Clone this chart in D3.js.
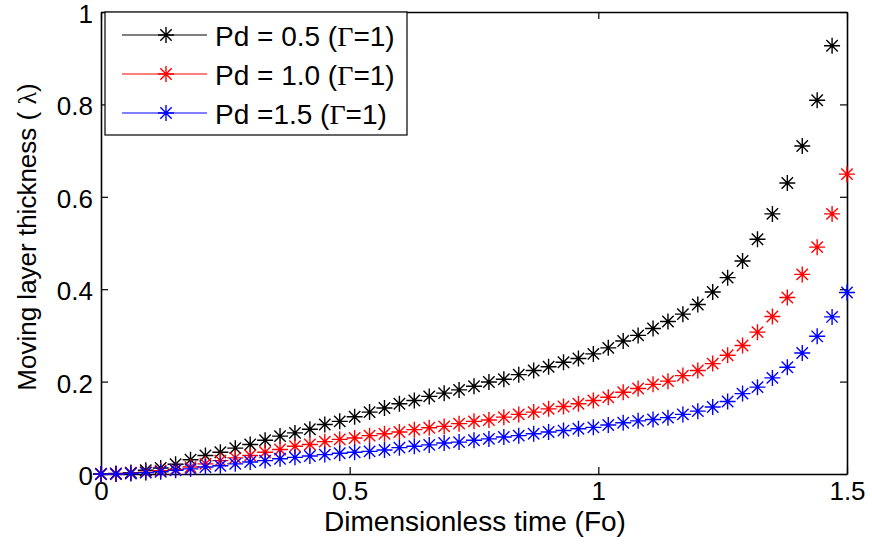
<!DOCTYPE html>
<html>
<head>
<meta charset="utf-8">
<script src="https://cdn.jsdelivr.net/npm/d3@7"></script>
<style>
  body { margin: 0; background: #fff; }
  text { font-family: "Liberation Sans", Arial, sans-serif; fill: #000; }
</style>
</head>
<body>
<div id="chart"></div>
<script>
// Dimensionless time (Fo)
const FO = [0, 0.03, 0.06, 0.09, 0.12, 0.15, 0.18, 0.21, 0.24, 0.27,
  0.30, 0.33, 0.36, 0.39, 0.42, 0.45, 0.48, 0.51, 0.54, 0.57,
  0.60, 0.63, 0.66, 0.69, 0.72, 0.75, 0.78, 0.81, 0.84, 0.87,
  0.90, 0.93, 0.96, 0.99, 1.02, 1.05, 1.08, 1.11, 1.14, 1.17,
  1.20, 1.23, 1.26, 1.29, 1.32, 1.35, 1.38, 1.41, 1.44, 1.47, 1.50];

// moving layer thickness, Pd = 0.5 (last point is off the top of the axes)
const PD05 = [0, 0.001, 0.003, 0.008, 0.013, 0.021, 0.031, 0.040, 0.047, 0.056,
  0.064, 0.073, 0.082, 0.089, 0.097, 0.107, 0.114, 0.124, 0.134, 0.143,
  0.152, 0.159, 0.168, 0.175, 0.182, 0.190, 0.199, 0.205, 0.215, 0.224,
  0.232, 0.242, 0.250, 0.260, 0.273, 0.288, 0.300, 0.315, 0.330, 0.346,
  0.367, 0.394, 0.425, 0.461, 0.508, 0.563, 0.630, 0.710, 0.809, 0.927];
const PD10 = [0, 0, 0.002, 0.004, 0.007, 0.010, 0.015, 0.022, 0.029, 0.035,
  0.040, 0.047, 0.053, 0.060, 0.064, 0.070, 0.075, 0.078, 0.083, 0.087,
  0.091, 0.096, 0.100, 0.103, 0.109, 0.114, 0.117, 0.123, 0.129, 0.134,
  0.141, 0.146, 0.152, 0.159, 0.166, 0.177, 0.185, 0.194, 0.201, 0.213,
  0.224, 0.239, 0.257, 0.278, 0.307, 0.341, 0.382, 0.432, 0.491, 0.563, 0.649];
const PD15 = [0, 0, 0.001, 0.003, 0.005, 0.008, 0.011, 0.015, 0.018, 0.022,
  0.026, 0.029, 0.033, 0.036, 0.039, 0.042, 0.045, 0.047, 0.049, 0.052,
  0.057, 0.060, 0.063, 0.067, 0.069, 0.073, 0.076, 0.080, 0.083, 0.087,
  0.091, 0.094, 0.098, 0.101, 0.106, 0.111, 0.115, 0.118, 0.122, 0.129,
  0.136, 0.145, 0.157, 0.174, 0.188, 0.208, 0.231, 0.262, 0.298, 0.340, 0.393];

const SERIES = [
  { pd: "0.5", label: "Pd = 0.5 (", color: "#000000", values: PD05 },
  { pd: "1.0", label: "Pd = 1.0 (", color: "#ff0000", values: PD10 },
  { pd: "1.5", label: "Pd =1.5 (", color: "#0000ff", values: PD15 }
];

const X_TICKS = [0, 0.5, 1, 1.5];
const Y_TICKS = [0, 0.2, 0.4, 0.6, 0.8, 1];

var margin = { top: 12, right: 25, bottom: 80, left: 101 },
  width = 872 - margin.left - margin.right,
  height = 554 - margin.top - margin.bottom;

var svg = d3.select("#chart")
  .append("svg")
  .attr("width", 872)
  .attr("height", 554);

var g = svg.append("g")
  .attr("transform", "translate(" + margin.left + "," + margin.top + ")");

var x = d3.scaleLinear().domain([0, 1.5]).range([0, width]);
var y = d3.scaleLinear().domain([0, 1]).range([height, 0]);

// axes with inward ticks, MATLAB style box
function styleAxis(sel) {
  sel.select(".domain").attr("stroke", "#000").attr("stroke-width", 1.6);
  sel.selectAll(".tick line").attr("stroke", "#000").attr("stroke-width", 1.2);
  sel.selectAll("text").style("font-size", "26px").style("font-family", "'Liberation Sans', Arial, sans-serif");
}

g.append("g")
  .attr("transform", "translate(0," + height + ")")
  .call(d3.axisBottom(x).tickValues(X_TICKS).tickSizeInner(-7).tickSizeOuter(0).tickPadding(8).tickFormat(d3.format("")))
  .call(styleAxis);

g.append("g")
  .call(d3.axisLeft(y).tickValues(Y_TICKS).tickSizeInner(-7).tickSizeOuter(0).tickPadding(8).tickFormat(d3.format("")))
  .call(styleAxis)
  .selectAll("text").attr("dy", "0.4em");

g.append("g")
  .call(d3.axisTop(x).tickValues(X_TICKS).tickSizeInner(-7).tickSizeOuter(0).tickFormat(""))
  .call(styleAxis);

g.append("g")
  .attr("transform", "translate(" + width + ",0)")
  .call(d3.axisRight(y).tickValues(Y_TICKS).tickSizeInner(-7).tickSizeOuter(0).tickFormat(""))
  .call(styleAxis);

// asterisk marker = plus + cross
var star = "M-8,0H8M0,-8V8M-5.7,-5.7L5.7,5.7M-5.7,5.7L5.7,-5.7";

SERIES.forEach(function (s) {
  var pts = s.values.map(function (v, i) { return { fo: FO[i], v: v }; });
  g.selectAll("path.m" + s.pd.replace(".", ""))
    .data(pts)
    .enter()
    .append("path")
    .attr("d", star)
    .attr("transform", function (d) { return "translate(" + x(d.fo) + "," + y(d.v) + ")"; })
    .attr("stroke", s.color)
    .attr("stroke-width", 1.4)
    .attr("fill", "none");
});

// axis titles
svg.append("text")
  .attr("x", margin.left + width / 2 + 1)
  .attr("y", 531)
  .style("text-anchor", "middle")
  .style("font-size", "28px")
  .text("Dimensionless time (Fo)");

var ylab = svg.append("text")
  .attr("transform", "translate(36,237) rotate(-90)")
  .style("text-anchor", "middle")
  .style("font-size", "26px");
ylab.append("tspan").text("Moving layer thickness ( ");
ylab.append("tspan").style("font-family", "'Liberation Serif', 'Times New Roman', serif").text("λ");
ylab.append("tspan").text(")");

// legend
var legend = svg.append("g").attr("transform", "translate(105,12)");
legend.append("rect")
  .attr("width", 302)
  .attr("height", 123)
  .attr("fill", "#fff")
  .attr("stroke", "#000")
  .attr("stroke-width", 1.2);

SERIES.forEach(function (s, i) {
  var row = legend.append("g").attr("transform", "translate(0," + (23 + i * 39) + ")");
  row.append("line")
    .attr("x1", 17).attr("x2", 102)
    .attr("stroke", s.color).attr("stroke-width", 1.2);
  row.append("path")
    .attr("d", star)
    .attr("transform", "translate(61,0)")
    .attr("stroke", s.color).attr("stroke-width", 1.4).attr("fill", "none");
  var t = row.append("text")
    .attr("x", 110)
    .attr("y", 11)
    .style("font-size", "28px");
  t.append("tspan").text(s.label);
  t.append("tspan").style("font-family", "'Liberation Serif', 'Times New Roman', serif").text("Γ");
  t.append("tspan").text("=1)");
});
</script>
</body>
</html>
